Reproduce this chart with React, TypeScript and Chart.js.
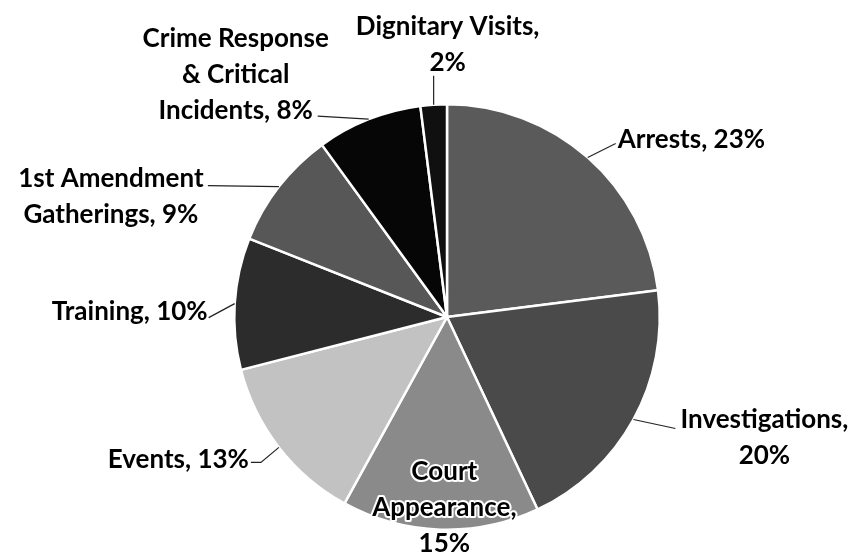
import React, { useEffect, useRef } from "react";
import { Chart, registerables } from "chart.js";

Chart.register(...registerables);

const categories = [
  "Arrests",
  "Investigations",
  "Court Appearance",
  "Events",
  "Training",
  "1st Amendment Gatherings",
  "Crime Response & Critical Incidents",
  "Dignitary Visits",
];
const values = [23, 20, 15, 13, 10, 9, 8, 2];
const sliceColors = ["#5a5a5a", "#4a4a4a", "#8a8a8a", "#c2c2c2", "#2c2c2c", "#575757", "#060606", "#101010"];

// label text lines for each slice
const labelLines = [
  ["Arrests, 23%"],
  ["Investigations,", "20%"],
  ["Court", "Appearance,", "15%"],
  ["Events, 13%"],
  ["Training, 10%"],
  ["1st Amendment", "Gatherings, 9%"],
  ["Crime Response", "& Critical", "Incidents, 8%"],
  ["Dignitary Visits,", "2%"],
];

// label placement relative to the slice's outer-edge midpoint
type Layout = { dx: number; dy: number; align: CanvasTextAlign; leader: [number, number][]; halo?: number };
const labelLayout: Layout[] = [
  { dx: 30, dy: -18, align: "left", leader: [[28, -14]] },
  { dx: 131, dy: 0, align: "center", leader: [[42, 9]] },
  { dx: 4, dy: -58, align: "center", leader: [], halo: 2 },
  { dx: -30, dy: 12, align: "right", leader: [[-18, 15], [-28, 15]] },
  { dx: -27, dy: 8, align: "right", leader: [[-26, 14]] },
  { dx: -168, dy: -8, align: "center", leader: [[-71, -1]] },
  { dx: -133, dy: -81, align: "center", leader: [[-51, -3]] },
  { dx: 14, dy: -78, align: "center", leader: [[0, -29]] },
];

const FONT = "bold 26px Lato";
const LINE_H = 36;

const labelPlugin = {
  id: "pieLabels",
  afterDatasetsDraw(chart: any) {
    const ctx: CanvasRenderingContext2D = chart.ctx;
    const meta = chart.getDatasetMeta(0);
    meta.data.forEach((arc: any, i: number) => {
      const { x, y, startAngle, endAngle, outerRadius } = arc.getProps(
        ["x", "y", "startAngle", "endAngle", "outerRadius"],
        true
      );
      const mid = (startAngle + endAngle) / 2;
      const ex = x + Math.cos(mid) * outerRadius;
      const ey = y + Math.sin(mid) * outerRadius;
      const lay = labelLayout[i];
      ctx.save();
      if (lay.leader.length) {
        ctx.strokeStyle = "#222";
        ctx.lineWidth = 1.2;
        ctx.beginPath();
        ctx.moveTo(ex, ey);
        lay.leader.forEach(([lx, ly]) => ctx.lineTo(ex + lx, ey + ly));
        ctx.stroke();
      }
      ctx.font = FONT;
      ctx.textAlign = lay.align;
      ctx.textBaseline = "middle";
      const lines = labelLines[i];
      // block-centered for center alignment
      let ax = ex + lay.dx;
      const ay = ey + lay.dy;
      lines.forEach((t, k) => {
        const ly = ay + k * LINE_H;
        if (lay.halo && k < lines.length - 1) {
          ctx.lineJoin = "round";
          ctx.strokeStyle = "#ffffff";
          ctx.lineWidth = 4;
          ctx.strokeText(t, ax, ly);
        }
        ctx.fillStyle = "#000";
        ctx.fillText(t, ax, ly);
      });
      ctx.restore();
    });
  },
};

export default function App() {
  const ref = useRef<HTMLCanvasElement>(null);
  useEffect(() => {
    document.body.style.margin = "0";
    const chart = new Chart(ref.current!, {
      type: "pie",
      data: {
        labels: categories,
        datasets: [
          {
            data: values,
            backgroundColor: sliceColors,
            borderColor: "#ffffff",
            borderWidth: 2.5,
          },
        ],
      },
      options: {
        animation: false,
        responsive: false,
        layout: { padding: { top: 103, bottom: 27, left: 233, right: 198 } },
        plugins: {
          legend: { display: false },
          tooltip: { enabled: false },
        },
      },
      plugins: [labelPlugin],
    });
    return () => chart.destroy();
  }, []);
  return (
    <div style={{ width: 859, height: 558, background: "#fff" }}>
      <canvas ref={ref} width={859} height={558} />
    </div>
  );
}
